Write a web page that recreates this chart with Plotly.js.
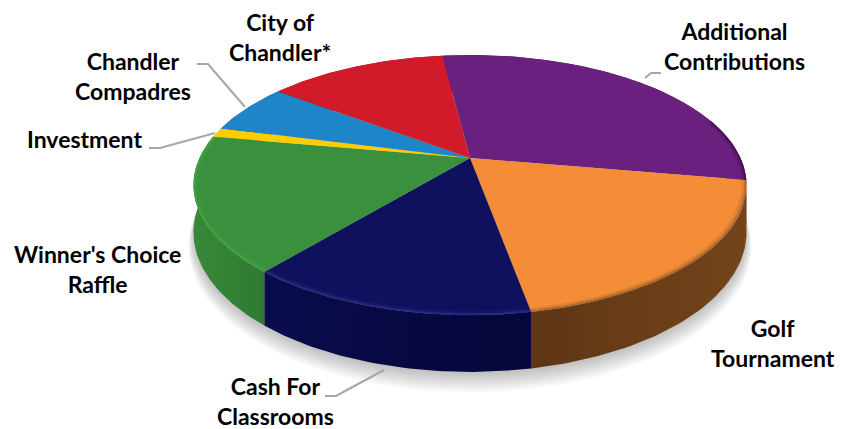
<!DOCTYPE html>
<html><head><meta charset="utf-8">
<script src="https://cdn.plot.ly/plotly-3.0.1.min.js"></script>
<style>html,body{margin:0;padding:0;background:#fff}#c{width:850px;height:429px}</style>
</head><body><div id="c"></div>
<script>
// Data (share of total, %)
const categories = ["Additional Contributions","Golf Tournament","Cash For Classrooms","Winner's Choice Raffle","Investment","Chandler Compadres","City of Chandler*"];
const values = [29.7,19.4,13.9,16.8,1.2,6.25,12.75];
const topColors = ["#6a207e","#f58c37","#0f115f","#3a903c","#ffcc00","#1f85c9","#d11b2b"];
const sideStart = ["#4a1558","#74441b","#05063a","#2f7a30","#b08c00","#155d8c","#92131e"];
const sideEnd = ["#4a1558","#5e3615","#0a0c4c","#37893a","#b08c00","#155d8c","#92131e"];
const rimColors = ["#3d1049","#a0642a","#2a2e86","#45a545","#ffcc00","#1f85c9","#d11b2b"];
const labelText = ["Additional<br>Contributions","Golf<br>Tournament","Cash For<br>Classrooms","Winner's Choice<br>Raffle","Investment","Chandler<br>Compadres","City of<br>Chandler*"];
const labelX = [734,773,275,97,84,133,280];
const labelY = [46,343,401,269,139,76,37];
const leaders = [
  {x:[645,651,661],y:[78,73,73]},
  {x:[325,336,384],y:[396,396,370]},
  {x:[149,160,215],y:[148,148,133]},
  {x:[197,208,245],y:[64,64,107]}
];
// Projection of the tilted disc onto the paper axes
const cx=470, cy=158, Rx=270.5, H=124.4, k=0.208, depth=45, startDeg=-7.1;
function P(deg,r,z){
  const t=deg*Math.PI/180, u=r*Math.sin(t), v=r*Math.cos(t), s=1/(1+k*v);
  return [cx+Rx*u*s, cy-H*v*s+z*s];
}
function arc(a,b,r,z){
  const n=Math.max(2,Math.ceil(Math.abs(b-a))), pts=[];
  for(let i=0;i<=n;i++) pts.push(P(a+(b-a)*i/n,r,z));
  return pts;
}
const total=values.reduce((p,c)=>p+c,0);
let acc=startDeg;
const spans=values.map(v=>{const a=acc;acc+=v/total*360;return [a,acc];});
const traces=[];
function poly(pts,extra){
  traces.push(Object.assign({type:'scatter',mode:'lines',x:pts.map(p=>p[0]),y:pts.map(p=>p[1]),
    line:{width:0},fill:'toself',hoverinfo:'skip',showlegend:false},extra));
}
// soft shadow
for(let j=0;j<9;j++){
  const pts=arc(0,360,1.0+j*0.0022,depth+2+j*1.4);
  poly(pts,{fillcolor:'rgba(0,0,0,0.028)'});
}
// sides
spans.forEach((s,i)=>{
  const pts=arc(s[0],s[1],1,0).concat(arc(s[1],s[0],1,depth));
  poly(pts,{fillcolor:sideEnd[i],fillgradient:{type:'horizontal',
    colorscale:[[0,sideEnd[i]],[1,sideStart[i]]]}});
});
// top faces
spans.forEach((s,i)=>{
  const pts=[P(0,0,0)].concat(arc(s[0],s[1],1,0)); pts.push(P(0,0,0));
  poly(pts,{fillcolor:topColors[i],hoverinfo:'text',hoveron:'fills',text:categories[i]+': '+values[i]+'%'});
});
// bevel rim, only on the near part of the disc
spans.forEach((s,i)=>{
  const a=Math.max(s[0],72), b=Math.min(s[1],280);
  if(b<=a) return;
  [[0.996,2,0.8],[0.987,2.5,0.25]].forEach(l=>{
    const pts=arc(a,b,l[0],0);
    traces.push({type:'scatter',mode:'lines',x:pts.map(p=>p[0]),y:pts.map(p=>p[1]),
      line:{color:rimColors[i],width:l[1]},opacity:l[2],hoverinfo:'skip',showlegend:false});
  });
});
// leader lines
leaders.forEach(l=>traces.push({type:'scatter',mode:'lines',x:l.x,y:l.y,
  line:{color:'#a6a6a6',width:2},hoverinfo:'skip',showlegend:false}));
const layout={width:850,height:429,margin:{l:0,r:0,t:0,b:0},paper_bgcolor:'#fff',plot_bgcolor:'#fff',showlegend:false,
  xaxis:{range:[0,850],visible:false,fixedrange:true},
  yaxis:{range:[429,0],visible:false,fixedrange:true},
  annotations:labelText.map((t,i)=>({text:t,x:labelX[i],y:labelY[i],xref:'x',yref:'y',showarrow:false,
    xanchor:'center',yanchor:'middle',align:'center',borderpad:0,
    font:{family:'Lato, Carlito, sans-serif',size:23,color:'#000',weight:700}}))
};
Plotly.newPlot('c',traces,layout,{displayModeBar:false,responsive:false});
</script></body></html>
